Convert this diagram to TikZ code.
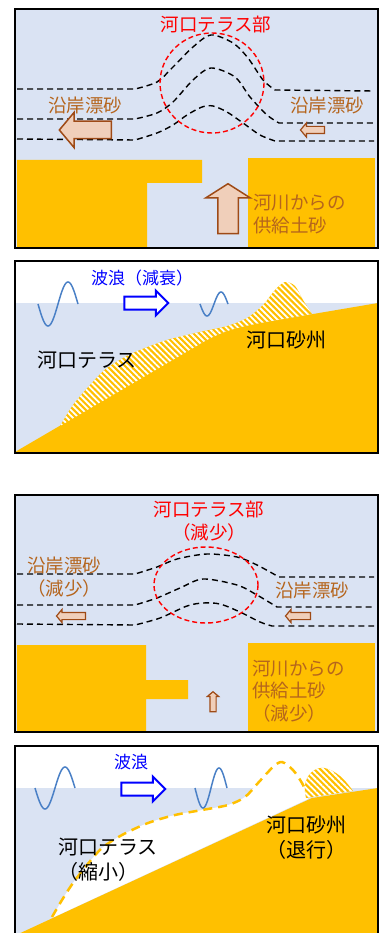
\documentclass[tikz,border=0pt]{standalone}
\usepackage{fontspec}
\setmainfont{Noto Sans CJK JP}
\usetikzlibrary{shapes.arrows,patterns.meta}

\definecolor{sea}{HTML}{DAE3F3}
\definecolor{sand}{HTML}{FFC000}
\definecolor{drifttext}{HTML}{B5651D}
\definecolor{arrowline}{HTML}{9E4A16}
\definecolor{arrowfill}{HTML}{F0CFBA}
\definecolor{wavecol}{HTML}{4A80C6}

\begin{document}
\begin{tikzpicture}[x=1pt,y=-1pt,
    frame/.style={draw=black,line width=2.5pt},
    drift/.style={black,line width=1.4pt,dash pattern=on 6pt off 4pt},
    zone/.style={red,line width=1.4pt,dash pattern=on 5pt off 3pt},
    lbl/.style={inner sep=0pt,font=\fontsize{18.5}{22.5}\selectfont},
    big/.style={inner sep=0pt,font=\fontsize{20}{25}\selectfont},
    wave/.style={wavecol,line width=1.5pt},
    bank/.style={preaction={fill=sand},pattern={Lines[angle=-45,distance=4.2pt,line width=1.8pt]},pattern color=white},
    oldbank/.style={sand,line width=2.5pt,dash pattern=on 9pt off 6pt},
    blockarr/.style={single arrow,draw=arrowline,fill=arrowfill,line width=1.5pt,
      inner xsep=0pt,minimum width=0pt,single arrow tip angle=100},
    uparr/.style={blockarr,shape border rotate=90,inner ysep=0pt},
    wavearr/.style={single arrow,draw=blue,fill=white,line width=2pt,
      inner xsep=0pt,inner ysep=5.5pt,minimum width=0pt,single arrow head extend=6pt,
      minimum height=44pt,single arrow tip angle=90}]

  \useasboundingbox (0,0) rectangle (385,933);

  % ---------- plan view, before ----------
  \fill[sea] (15,9) rectangle (378,248);

  % land either side of the river mouth
  \fill[sand] (17,160) -- (202,160) -- (202,183) -- (147,183) -- (147,247) -- (17,247) -- cycle;
  \fill[sand] (248,158) rectangle (375,247);

  % depth contours bending round the terrace
  \draw[drift] (17,89) -- plot[smooth] coordinates {(135,89) (157,82) (173,67) (193,47) (211,35) (233,43) (248,58) (263,80) (275,90)} -- (374,91);
  \draw[drift] (17,119) -- plot[smooth] coordinates {(135,119) (157,113) (173,102) (193,80) (211,68) (235,77) (250,97) (267,115) (279,123)} -- (374,123);
  \draw[drift] (17,139) -- plot[smooth] coordinates {(135,140) (157,133) (173,125) (187,115) (202,107) (213,106) (227,112) (243,123) (260,135) (275,141)} -- (374,141);

  \draw[zone] (212,83) ellipse [x radius=52,y radius=50];
  \node[lbl,red] (terr1) at (216,25) {河口テラス部};

  \node[lbl,drifttext] (drift1L) at (85,105) {沿岸漂砂};
  \node[lbl,drifttext] (drift1R) at (327,105) {沿岸漂砂};
  \node[blockarr,shape border rotate=180,minimum height=52pt,inner ysep=8pt,single arrow head extend=9pt] (drift1Larr) at (89,130) {};
  \node[blockarr,shape border rotate=180,minimum height=24pt,inner ysep=3pt,single arrow head extend=3.5pt,line width=1.2pt] (drift1Rarr) at (314,130) {};

  \node[uparr,minimum height=50pt,inner xsep=9.5pt,single arrow head extend=12pt,single arrow tip angle=115] (river1arr) at (228,212) {};
  \node[lbl,drifttext,align=left,anchor=west] (river1) at (253,214) {河川からの\\供給土砂};

  \draw[frame] (15,9) rectangle (378,248);

  % ---------- section, before ----------
  \fill[sea] (15,303) rectangle (378,453);
  \fill[sand] (15,452) -- (205,341) .. controls (225,330) and (240,327) .. (260,323) -- (378,303) -- (378,453) -- (15,453) -- cycle;
  \path[bank] plot[smooth] coordinates {(60,426) (73,405) (90,385) (107,368) (133,353) (167,340) (200,332) (227,326) (247,318) (263,305) (275,290) (285,282) (295,286) (303,300) (312,314)}
    -- (260,323) .. controls (240,327) and (225,330) .. (205,341) -- cycle;

  \draw[wave] plot[domain=0:360,samples=37,smooth] ({38+\x/9},{304+22*sin(\x)});
  \draw[wave] plot[domain=0:360,samples=37,smooth] ({200+\x*28/360},{304+12*sin(\x)});

  \node[inner sep=0pt,font=\fontsize{17}{20}\selectfont,blue] (wave2) at (142,278) {波浪（減衰）};
  \node[wavearr] (wave2arr) at (143,303) {};
  \node[big] (terr2) at (87,360) {河口テラス};
  \node[big] (bar2) at (286,340) {河口砂州};

  \draw[frame] (15,261) rectangle (378,453);

  % ---------- plan view, after ----------
  \fill[sea] (15,495) rectangle (378,732);

  \fill[sand] (17,645) -- (146,645) -- (146,680) -- (188,680) -- (188,699) -- (146,699) -- (146,731) -- (17,731) -- cycle;
  \fill[sand] (248,643) rectangle (375,731);

  \draw[drift] (17,574) -- plot[smooth] coordinates {(135,574) (157,567) (177,559) (207,554) (237,557) (257,565) (279,577)} -- (374,577);
  \draw[drift] (17,605) -- plot[smooth] coordinates {(135,605) (157,598) (180,588) (203,579) (237,585) (257,595) (277,607)} -- (374,607);
  \draw[drift] (17,624) -- plot[smooth] coordinates {(135,625) (160,618) (187,606) (203,603) (220,604) (240,612) (260,622) (272,626)} -- (374,626);

  \draw[zone] (206,585) ellipse [x radius=52,y radius=38];
  \node[lbl,red,align=center] (terr3) at (209,521) {河口テラス部\\（減少）};

  \node[lbl,drifttext,align=left,anchor=west] (drift3L) at (27,577) {沿岸漂砂\\（減少）};
  \node[lbl,drifttext] (drift3R) at (312,590) {沿岸漂砂};
  \node[blockarr,shape border rotate=180,minimum height=29pt,inner ysep=3pt,single arrow head extend=3pt,line width=1.2pt] (drift3Larr) at (72.5,616) {};
  \node[blockarr,shape border rotate=180,minimum height=25pt,inner ysep=3pt,single arrow head extend=3pt,line width=1.2pt] (drift3Rarr) at (299.5,616) {};

  \node[uparr,minimum height=20pt,inner xsep=2.5pt,single arrow head extend=2.5pt,line width=1.2pt] (river3arr) at (213,703) {};
  \node[lbl,drifttext,align=left,anchor=west] (river3) at (252,691) {河川からの\\供給土砂\\（減少）};

  \draw[frame] (15,495) rectangle (378,732);

  % ---------- section, after ----------
  \fill[sea] (15,788) rectangle (378,945);
  % eroded part of the terrace
  \fill[white] plot[smooth] coordinates {(52,918) (62,900) (73,883) (87,865) (102,848) (122,835) (148,823) (175,815) (202,810) (228,805) (245,797) (258,783) (273,767) (282,762) (293,770) (302,783) (306,792)}
    -- (308,799) -- cycle;
  \fill[sand] (15,935.5) -- (312,798) -- (378,788) -- (378,945) -- (15,945) -- cycle;
  \path[bank] (306,798) .. controls (300,774) and (318,764) .. (328,769) .. controls (340,773) and (348,784) .. (353,791) -- cycle;
  \draw[oldbank] plot[smooth] coordinates {(52,917) (62,900) (73,883) (87,865) (102,848) (122,835) (148,823) (175,815) (202,810) (228,805) (245,797) (258,783) (273,767) (282,762) (293,770) (302,783) (306,792)};

  \draw[wave] plot[domain=0:360,samples=37,smooth] ({35+\x/9},{788+21*sin(\x)});
  \draw[wave] plot[domain=0:360,samples=37,smooth] ({195+\x*32/360},{788+20*sin(\x)});

  \node[inner sep=0pt,font=\fontsize{17}{20}\selectfont,blue] (wave4) at (131,762) {波浪};
  \node[wavearr] (wave4arr) at (140,789) {};
  \node[big,align=left,anchor=west] (terr4) at (58,860) {河口テラス\\（縮小）};
  \node[big,align=center] (bar4) at (306,838) {河口砂州\\（退行）};

  \draw[frame] (15,746) rectangle (378,945);
\end{tikzpicture}
\end{document}
